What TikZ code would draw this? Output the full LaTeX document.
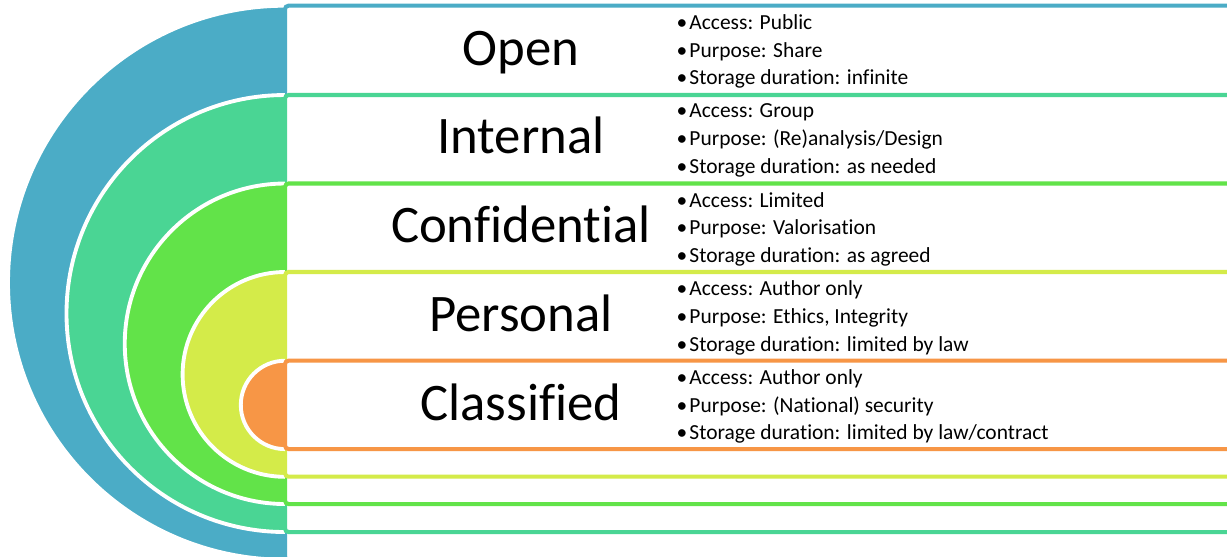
\documentclass[tikz,border=0pt]{standalone}
\usepackage{fontspec}
\setmainfont{Carlito}[Ligatures=NoCommon]
\usepackage{tikz}
\usetikzlibrary{positioning}

\definecolor{openblue}{HTML}{4BACC6}
\definecolor{internalgreen}{HTML}{4AD594}
\definecolor{confgreen}{HTML}{62E349}
\definecolor{personallime}{HTML}{D4EB49}
\definecolor{classorange}{HTML}{F79646}

% bullet of the info lists
\newcommand{\itm}{•\kern0.6pt}

\begin{document}
\begin{tikzpicture}[x=0.01cm,y=-0.01cm,
    disk/.style={draw=white, line width=1.1pt},
    level/.style={fill=white, line width=1.15pt, rounded corners=1pt},
    title/.style={font=\fontsize{15}{18}\selectfont, inner sep=0pt, anchor=base},
    info/.style={font=\fontsize{6.1}{7.85}\selectfont, align=left, anchor=west, inner sep=0pt}
    ]
    %cadre
    \clip (0,0) rectangle (1227,556);

    % Open
    \path[disk,fill=openblue] (285,5.7) arc[start angle=270, end angle=90, radius=277];
    \draw[level,draw=openblue] (285,5.7) rectangle (1240,560);
    % Internal
    \path[disk,fill=internalgreen] (285,95) arc[start angle=270, end angle=90, radius=218.5];
    \draw[level,draw=internalgreen] (285,95) rectangle (1240,532);
    % Confidential
    \path[disk,fill=confgreen] (285,183.5) arc[start angle=270, end angle=90, radius=160.25];
    \draw[level,draw=confgreen] (285,183.5) rectangle (1240,504);
    % Personal
    \path[disk,fill=personallime] (285,272) arc[start angle=270, end angle=90, radius=102.4];
    \draw[level,draw=personallime] (285,272) rectangle (1240,476.7);
    % Classified
    \path[disk,fill=classorange] (285,360.7) arc[start angle=270, end angle=90, radius=44.2];
    \draw[level,draw=classorange] (285,360.7) rectangle (1240,449);

    \node[title] (open)         at (521,65)    {Open};
    \node[title] (internal)     at (521,153.8) {Internal};
    \node[title] (confidential) at (521,242.6) {Confidential};
    \node[title] (personal)     at (521,331.4) {Personal};
    \node[title] (classified)   at (521,420.2) {Classified};

    \node[info] (openinfo)         at (676,51.5)  {\itm Access: Public\\\itm Purpose: Share\\\itm Storage duration: infinite};
    \node[info] (internalinfo)     at (676,140.3) {\itm Access: Group\\\itm Purpose: (Re)analysis/Design\\\itm Storage duration: as needed};
    \node[info] (confidentialinfo) at (676,229.1) {\itm Access: Limited\\\itm Purpose: Valorisation\\\itm Storage duration: as agreed};
    \node[info] (personalinfo)     at (676,317.9) {\itm Access: Author only\\\itm Purpose: Ethics, Integrity\\\itm Storage duration: limited by law};
    \node[info] (classifiedinfo)   at (676,406.7) {\itm Access: Author only\\\itm Purpose: (National) security\\\itm Storage duration: limited by law/contract};
\end{tikzpicture}
\end{document}
